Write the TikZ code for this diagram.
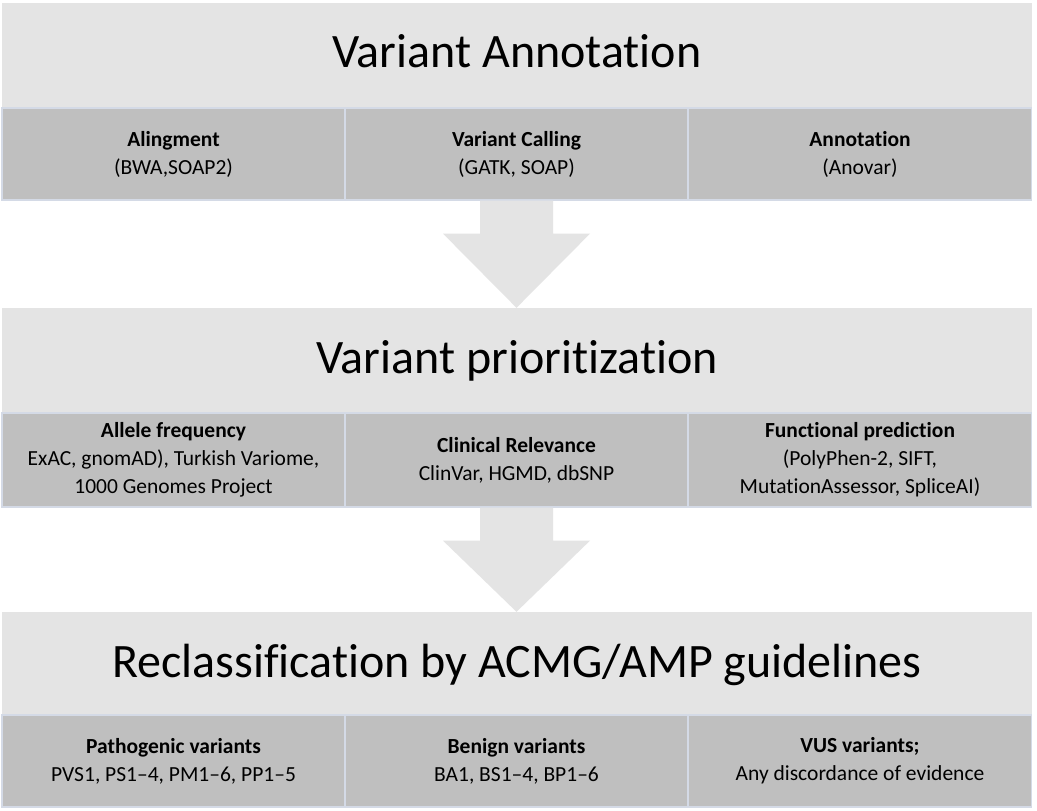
\documentclass[tikz,border=0pt]{standalone}
\usepackage{fontspec}
\setmainfont{Carlito}[Ligatures=NoCommon]
\definecolor{hdrgray}{RGB}{228,228,228}
\definecolor{cellgray}{RGB}{191,191,191}
\definecolor{cellline}{RGB}{212,218,230}
\begin{document}
\begin{tikzpicture}[x=1pt,y=-1pt,
  hdr/.style={rectangle,fill=hdrgray,draw=none,minimum width=1030pt,minimum height=105pt,inner sep=0pt},
  titletext/.style={font=\fontsize{48}{58}\selectfont,inner sep=0pt,anchor=base},
  cell/.style={rectangle,fill=cellgray,draw=cellline,line width=1.3pt,minimum width=343pt,minimum height=92pt,inner sep=0pt,align=center,font=\fontsize{21.5}{28}\selectfont},
  bigarrow/.style={fill=hdrgray,draw=none}
]
\useasboundingbox (0,0) rectangle (1037,811);
\fill[white] (0,0) rectangle (1037,811);

% Section 1
\node[hdr] (h1) at (517,55.5) {};
\node[titletext] (t1) at (517,67) {Variant Annotation};
\node[cell] (c11) at (173.5,154) {\textbf{Alingment}\\(BWA,SOAP2)};
\node[cell] (c12) at (516.5,154) {\textbf{Variant Calling}\\(GATK, SOAP)};
\node[cell] (c13) at (860,154) {\textbf{Annotation}\\(Anovar)};

% Section 2
\node[hdr] (h2) at (517,360.5) {};
\node[titletext] (t2) at (517,373) {Variant prioritization};
\node[cell,minimum height=94pt] (c21) at (173.5,460) {\textbf{Allele frequency}\\ExAC, gnomAD), Turkish Variome,\\1000 Genomes Project};
\node[cell,minimum height=94pt] (c22) at (516.5,460) {\textbf{Clinical Relevance}\\ClinVar, HGMD, dbSNP};
\node[cell,minimum height=94pt] (c23) at (860,460) {\textbf{Functional prediction}\\(PolyPhen-2, SIFT,\\MutationAssessor, SpliceAI)};

% Section 3
\node[hdr,minimum height=103pt] (h3) at (517,663.5) {};
\node[titletext] (t3) at (517,677) {Reclassification by ACMG/AMP guidelines};
\node[cell] (c31) at (173.5,761) {\textbf{Pathogenic variants}\\PVS1, PS1–4, PM1–6, PP1–5};
\node[cell] (c32) at (516.5,761) {\textbf{Benign variants}\\BA1, BS1–4, BP1–6};
\node[cell] (c33) at (860,761) {\textbf{VUS variants;}\\Any discordance of evidence};

% Block arrows
\fill[bigarrow] ([xshift=-36.5pt]c12.south) -- ([xshift=36.5pt]c12.south)
  -- ([xshift=36.5pt,yshift=-33pt]c12.south) -- ([xshift=73.5pt,yshift=-33pt]c12.south)
  -- (h2.north -| c12.south) -- ([xshift=-73.5pt,yshift=-33pt]c12.south)
  -- ([xshift=-36.5pt,yshift=-33pt]c12.south) -- cycle;
\fill[bigarrow] ([xshift=-36.5pt]c22.south) -- ([xshift=36.5pt]c22.south)
  -- ([xshift=36.5pt,yshift=-33pt]c22.south) -- ([xshift=73.5pt,yshift=-33pt]c22.south)
  -- (h3.north -| c22.south) -- ([xshift=-73.5pt,yshift=-33pt]c22.south)
  -- ([xshift=-36.5pt,yshift=-33pt]c22.south) -- cycle;
\end{tikzpicture}
\end{document}
